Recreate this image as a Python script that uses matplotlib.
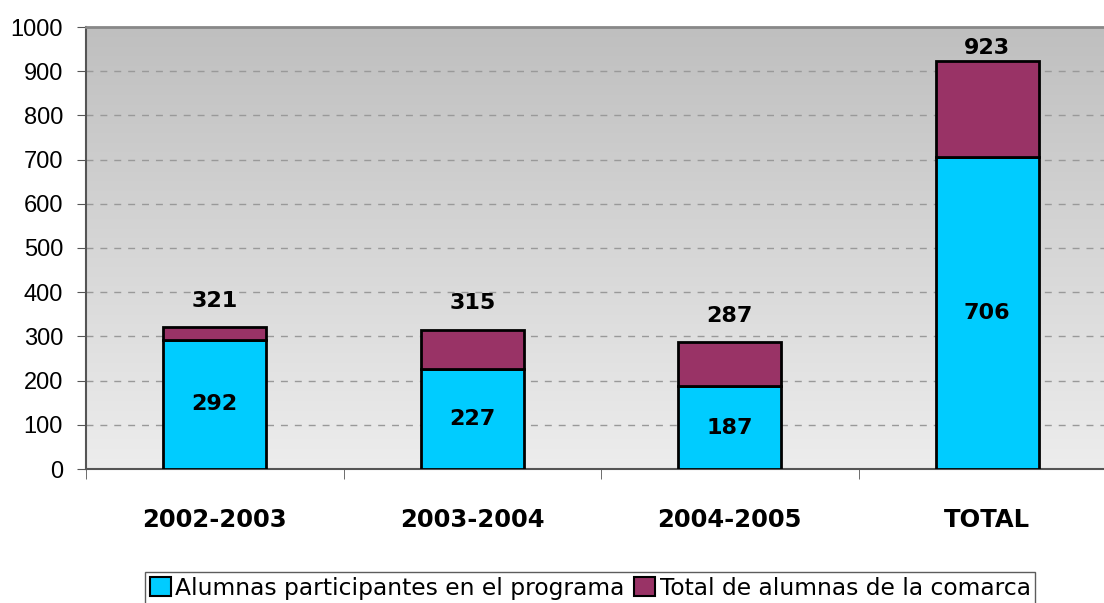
import numpy as np
import matplotlib
matplotlib.use('Agg')
import matplotlib.pyplot as plt
from matplotlib.patches import Patch

###############################################################################
categories = ['2002-2003', '2003-2004', '2004-2005', 'TOTAL']
participantes = [292, 227, 187, 706]
total_comarca = [321, 315, 287, 923]
yticks = [0, 100, 200, 300, 400, 500, 600, 700, 800, 900, 1000]
LABEL_P = 'Alumnas participantes en el programa'
LABEL_T = 'Total de alumnas de la comarca'
CYAN, MAROON = '#00ccff', '#993366'
###############################################################################

fig = plt.figure(figsize=(11.04, 6.03), dpi=100)
ax = fig.add_axes([86 / 1104, 1 - 469 / 603, 1030 / 1104, 442 / 603])

x = np.arange(len(categories))
resto = np.array(total_comarca) - np.array(participantes)

# gradiente del fondo (gris arriba, claro abajo)
grad = np.linspace(0, 1, 256).reshape(-1, 1)
ax.imshow(grad, cmap=matplotlib.colors.LinearSegmentedColormap.from_list(
    'bg', ['#bfbfbf', '#ededed']), aspect='auto', extent=[0, 1, 0, 1],
    origin='upper', transform=ax.transAxes, zorder=0)

ax.bar(x, participantes, width=0.4, color=CYAN, edgecolor='black', linewidth=2, zorder=3)
ax.bar(x, resto, width=0.4, bottom=participantes, color=MAROON, edgecolor='black', linewidth=2, zorder=3)

ax.set_xlim(-0.5, len(categories) - 0.5)
ax.set_ylim(0, 1000)
ax.set_yticks(yticks)
ax.set_yticklabels([str(v) for v in yticks], fontsize=17, family='Liberation Sans')
for v in yticks[1:-1]:
    ax.axhline(v, color='#999999', linewidth=1, linestyle=(0, (5, 5)), zorder=1)

ax.set_xticks(x)
ax.set_xticklabels(categories, fontsize=17.5, fontweight='bold', family='DejaVu Sans')
ax.set_xticks(np.arange(len(categories)) - 0.5, minor=True)
ax.tick_params(axis='x', which='major', length=0, pad=28)
ax.tick_params(axis='x', which='minor', length=7, color='#555555')
ax.tick_params(axis='y', length=6.5, color='#555555', pad=10)

ax.spines['right'].set_visible(False)
ax.spines['top'].set_color('#888888')
ax.spines['top'].set_linewidth(2)
ax.spines['left'].set_color('#555555')
ax.spines['left'].set_linewidth(1.5)
ax.spines['bottom'].set_color('#555555')
ax.spines['bottom'].set_linewidth(1.5)

for i in range(len(categories)):
    ax.text(x[i], participantes[i] / 2, str(participantes[i]), ha='center', va='center',
            fontsize=16, fontweight='bold', zorder=4)
    ytop = min(total_comarca[i] + 60, 952)
    ax.text(x[i], ytop, str(total_comarca[i]), ha='center', va='center',
            fontsize=16, fontweight='bold', zorder=4)

handles = [Patch(facecolor=CYAN, edgecolor='black', linewidth=1.5, label=LABEL_P),
           Patch(facecolor=MAROON, edgecolor='black', linewidth=1.5, label=LABEL_T)]
leg = fig.legend(handles=handles, loc='lower left', bbox_to_anchor=(145 / 1104, -0.002),
                 ncol=2, fontsize=16.8, frameon=True, fancybox=False, handlelength=0.9,
                 handleheight=0.9, handletextpad=0.2, columnspacing=0.4, borderpad=0.2,
                 borderaxespad=0)
leg.get_frame().set_edgecolor('#333333')
leg.get_frame().set_linewidth(1)

plt.savefig('out.png', dpi=100)
